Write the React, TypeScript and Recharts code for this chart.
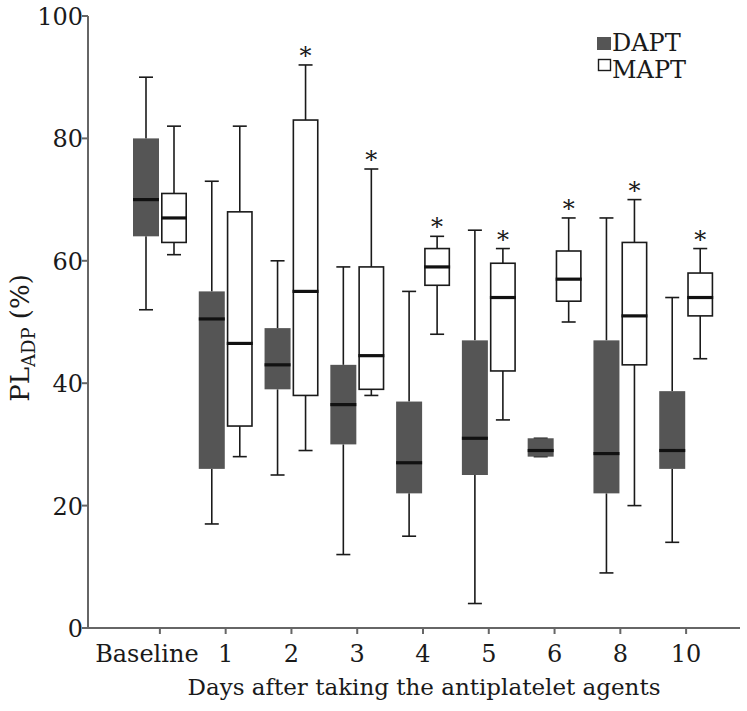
import { Bar, ComposedChart, Legend, XAxis, YAxis } from "recharts";

const categories = ["Baseline", "1", "2", "3", "4", "5", "6", "8", "10"];

const daptMin = [52, 17, 25, 12, 15, 4, 28, 9, 14];
const daptQ1 = [64, 26, 39, 30, 22, 25, 28, 22, 26];
const daptMedian = [70, 50.5, 43, 36.5, 27, 31, 29, 28.5, 29];
const daptQ3 = [80, 55, 49, 43, 37, 47, 31, 47, 38.7];
const daptMax = [90, 73, 60, 59, 55, 65, 31, 67, 54];

const maptMin = [61, 28, 29, 38, 48, 34, 50, 20, 44];
const maptQ1 = [63, 33, 38, 39, 56, 42, 53.4, 43, 51];
const maptMedian = [67, 46.5, 55, 44.5, 59, 54, 57, 51, 54];
const maptQ3 = [71, 68, 83, 59, 62, 59.6, 61.6, 63, 58];
const maptMax = [82, 82, 92, 75, 64, 62, 67, 70, 62];

const maptSignificant = [false, false, true, true, true, true, true, true, true];

const yTicks = [0, 20, 40, 60, 80, 100];

const FONT = "'DejaVu Serif', serif";
const INK = "#1a1a1a";
const AXIS = "#666";
const DARK_FILL = "#555555";

const data = categories.map((cat, i) => ({
  cat,
  dMin: daptMin[i],
  dQ1: daptQ1[i],
  dMed: daptMedian[i],
  dQ3: daptQ3[i],
  dMax: daptMax[i],
  mMin: maptMin[i],
  mQ1: maptQ1[i],
  mMed: maptMedian[i],
  mQ3: maptQ3[i],
  mMax: maptMax[i],
  sig: maptSignificant[i]
}));

// bar spans 0..max, so its height gives the px-per-unit of the y scale
function makeBoxShape(prefix: "d" | "m", filled: boolean) {
  return (props: any) => {
    const { x, y, width, height, payload } = props;
    const max = payload[prefix + "Max"];
    if (!max || !height) return <g />;
    const k = height / max;
    const base = y + height;
    const py = (v: number) => base - v * k;
    const cx = x + width / 2;
    const cap = 7;
    const yMin = py(payload[prefix + "Min"]);
    const yQ1 = py(payload[prefix + "Q1"]);
    const yMed = py(payload[prefix + "Med"]);
    const yQ3 = py(payload[prefix + "Q3"]);
    const yMax = py(max);
    return (
      <g>
        <line x1={cx} x2={cx} y1={yMax} y2={yQ3} stroke={INK} strokeWidth={1.6} />
        <line x1={cx} x2={cx} y1={yQ1} y2={yMin} stroke={INK} strokeWidth={1.6} />
        <line x1={cx - cap} x2={cx + cap} y1={yMax} y2={yMax} stroke={INK} strokeWidth={1.6} />
        <line x1={cx - cap} x2={cx + cap} y1={yMin} y2={yMin} stroke={INK} strokeWidth={1.6} />
        {filled ? (
          <rect x={x} y={yQ3} width={width} height={Math.max(yQ1 - yQ3, 1)} fill={DARK_FILL} />
        ) : (
          <rect x={x + 0.8} y={yQ3} width={width - 1.6} height={Math.max(yQ1 - yQ3, 1)} fill="#fff" stroke={INK} strokeWidth={1.6} />
        )}
        <line x1={x} x2={x + width} y1={yMed} y2={yMed} stroke="#111" strokeWidth={3.2} />
        {!filled && payload.sig ? (
          <text x={cx} y={yMax - 1} textAnchor="middle" fontFamily={FONT} fontSize={24} fill={INK}>
            *
          </text>
        ) : null}
      </g>
    );
  };
}

const XTick = (props: any) => {
  const { x, y, payload, index } = props;
  const shift = index === 0 ? -13 : 0;
  return (
    <text x={x + shift} y={y} dy={26} textAnchor="middle" fontFamily={FONT} fontSize={24} fill={INK}>
      {payload.value}
    </text>
  );
};

const YTick = (props: any) => {
  const { x, y, payload } = props;
  return (
    <text x={x + 2} y={y} dy={9} textAnchor="end" fontFamily={FONT} fontSize={24} fill={INK}>
      {payload.value}
    </text>
  );
};

const XTitle = (props: any) => {
  const { viewBox } = props;
  const cx = viewBox.x + viewBox.width / 2 + 10;
  return (
    <text x={cx} y={viewBox.y + 67} textAnchor="middle" fontFamily={FONT} fontSize={23} fill={INK}>
      Days after taking the antiplatelet agents
    </text>
  );
};

const YTitle = (props: any) => {
  const { viewBox } = props;
  const cy = viewBox.y + viewBox.height / 2 + 16;
  const cx = 29;
  return (
    <text
      x={cx}
      y={cy}
      transform={`rotate(-90 ${cx} ${cy})`}
      textAnchor="middle"
      fontFamily={FONT}
      fontSize={26}
      fill={INK}
    >
      PL
      <tspan fontSize={18} dy={6}>ADP</tspan>
      <tspan dy={-6}> (%)</tspan>
    </text>
  );
};

const LegendBox = () => (
  <svg width={130} height={64}>
    <rect x={7} y={10} width={14} height={13} fill={DARK_FILL} />
    <text x={22} y={24} fontFamily={FONT} fontSize={24} fill={INK}>DAPT</text>
    <rect x={8.5} y={32.5} width={12} height={11} fill="#fff" stroke={INK} strokeWidth={1.4} />
    <text x={22} y={51} fontFamily={FONT} fontSize={24} fill={INK}>MAPT</text>
  </svg>
);

export default function App() {
  return (
    <div style={{ position: "absolute", left: 0, top: 0, width: 747, height: 711, background: "#fff" }}>
      <ComposedChart
        width={747}
        height={711}
        data={data}
        margin={{ top: 16, right: 7, bottom: 0, left: 0 }}
        barSize={26}
        barGap={2}
      >
        <XAxis
          dataKey="cat"
          height={83}
          padding={{ left: 39, right: 21 }}
          axisLine={{ stroke: AXIS, strokeWidth: 2 }}
          tickLine={{ stroke: AXIS, strokeWidth: 2 }}
          tickSize={6}
          tick={<XTick />}
          interval={0}
          label={<XTitle />}
        />
        <YAxis
          width={88}
          domain={[0, 100]}
          ticks={yTicks}
          axisLine={{ stroke: AXIS, strokeWidth: 2 }}
          tickLine={{ stroke: AXIS, strokeWidth: 2 }}
          tickSize={6}
          tickMargin={1}
          tick={<YTick />}
          label={<YTitle />}
        />
        <Legend
          layout="horizontal"
          verticalAlign="middle"
          align="center"
          content={<LegendBox />}
          wrapperStyle={{ position: "absolute", left: 590, top: 27, width: 130, height: 64 }}
        />
        <Bar dataKey="dMax" name="DAPT" shape={makeBoxShape("d", true)} isAnimationActive={false} />
        <Bar dataKey="mMax" name="MAPT" shape={makeBoxShape("m", false)} isAnimationActive={false} />
      </ComposedChart>
    </div>
  );
}
